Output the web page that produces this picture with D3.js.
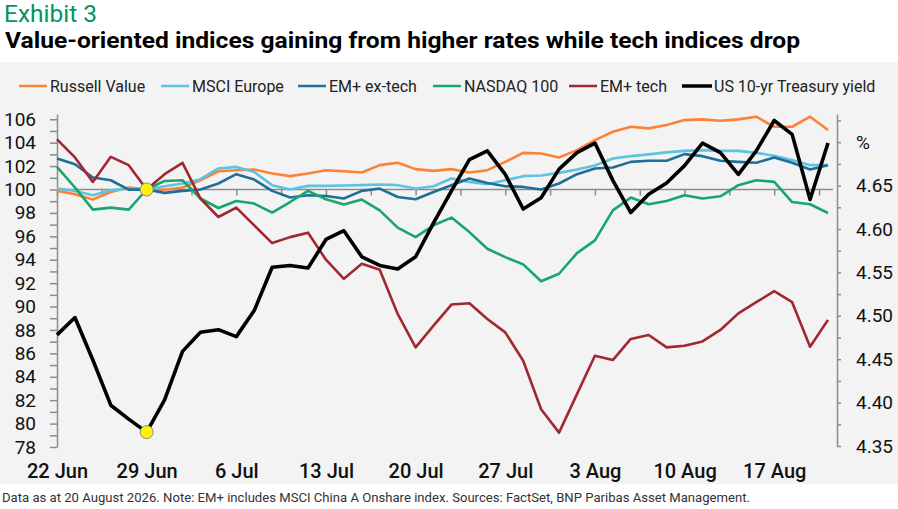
<!DOCTYPE html>
<html lang="en">
  <head>
    <meta charset="UTF-8" />
    <title>Exhibit 3</title>
    <script src="https://d3js.org/d3.v7.min.js"></script>
    <style>
      body {
        margin: 0;
        background: #fff;
        font-family: Roboto, "Noto Sans", sans-serif;
      }
      .axis path,
      .axis line {
        stroke: #8c8c8c;
        stroke-width: 1.5;
      }
      .axis text {
        font-family: Roboto, "Noto Sans", sans-serif;
        font-size: 19px;
        fill: #111;
      }
      .x-labels text {
        font-size: 20px;
        font-weight: 500;
      }
    </style>
  </head>
  <body>
    <div id="chart"></div>
    <script>
      // business days, 22 Jun - 20 Aug
      const dates = [
        "22 Jun", "23 Jun", "24 Jun", "25 Jun", "26 Jun",
        "29 Jun", "30 Jun", "1 Jul", "2 Jul", "3 Jul",
        "6 Jul", "7 Jul", "8 Jul", "9 Jul", "10 Jul",
        "13 Jul", "14 Jul", "15 Jul", "16 Jul", "17 Jul",
        "20 Jul", "21 Jul", "22 Jul", "23 Jul", "24 Jul",
        "27 Jul", "28 Jul", "29 Jul", "30 Jul", "31 Jul",
        "3 Aug", "4 Aug", "5 Aug", "6 Aug", "7 Aug",
        "10 Aug", "11 Aug", "12 Aug", "13 Aug", "14 Aug",
        "17 Aug", "18 Aug", "19 Aug", "20 Aug"
      ];
      const tickLabels = ["22 Jun", "29 Jun", "6 Jul", "13 Jul", "20 Jul", "27 Jul", "3 Aug", "10 Aug", "17 Aug"];

      const russellValue = [
        99.88, 99.59, 99.14, 99.79, 100.17, 100, 99.98, 100.17, 100.79, 101.56,
        101.65, 101.71, 101.37, 101.14, 101.37, 101.65, 101.56, 101.45, 102.08, 102.28,
        101.74, 101.59, 101.74, 101.45, 101.65, 102.36, 103.13, 103.08, 102.74, 103.36,
        104.22, 104.93, 105.36, 105.22, 105.51, 105.93, 105.99, 105.87, 105.99, 106.22,
        105.36, 105.36, 106.22, 105.08
      ];
      const msciEurope = [
        100.08, 99.88, 99.51, 99.94, 100.08, 100, 100.28, 100.51, 100.88, 101.8,
        101.93, 101.5, 100.37, 100.0, 100.31, 100.31, 100.34, 100.37, 100.43, 100.37,
        100.08, 100.28, 100.94, 100.65, 100.45, 100.79, 101.14, 101.2, 101.42, 101.71,
        102.05, 102.65, 102.85, 103.0, 103.17, 103.3, 103.36, 103.3, 103.3, 103.13,
        102.88, 102.51, 102.08, 102.08
      ];
      const emExTech = [
        102.65, 102.16, 101.02, 100.79, 99.99, 100, 99.71, 99.88, 100.0, 100.51,
        101.31, 100.85, 99.88, 99.31, 99.51, 99.45, 99.23, 99.88, 100.08, 99.36,
        99.17, 99.79, 100.37, 100.94, 100.56, 100.28, 100.22, 100.0, 100.51, 101.31,
        101.8, 101.88, 102.36, 102.45, 102.45, 103.02, 102.85, 102.45, 102.36, 102.28,
        102.74, 102.28, 101.71, 102.08
      ];
      const nasdaq100 = [
        101.93, 100.17, 98.28, 98.45, 98.28, 100, 100.73, 100.79, 99.23, 98.42,
        99.02, 98.8, 98.03, 98.93, 99.88, 99.17, 98.71, 99.14, 98.22, 96.74,
        95.93, 96.94, 97.6, 96.36, 94.94, 94.22, 93.6, 92.16, 92.8, 94.56,
        95.65, 98.22, 99.31, 98.74, 99.02, 99.51, 99.23, 99.42, 100.37, 100.79,
        100.65, 98.93, 98.74, 97.99
      ];
      const emTech = [
        104.28, 102.74, 100.65, 102.79, 102.08, 100, 101.31, 102.28, 99.23, 97.65,
        98.45, 96.94, 95.42, 95.93, 96.31, 94.0, 92.37, 93.66, 93.14, 89.37,
        86.51, 88.37, 90.17, 90.28, 88.94, 87.79, 85.37, 81.23, 79.23, 82.52,
        85.8, 85.43, 87.23, 87.57, 86.51, 86.65, 87.02, 88.0, 89.42, 90.37,
        91.31, 90.37, 86.57, 88.86
      ];
      // right axis, %
      const us10y = [
        4.478, 4.498, 4.449, 4.397, 4.381, 4.366, 4.403, 4.459, 4.481, 4.484,
        4.476, 4.506, 4.556, 4.558, 4.555, 4.588, 4.598, 4.568, 4.558, 4.554,
        4.568, 4.607, 4.644, 4.68, 4.69, 4.663, 4.623, 4.636, 4.669, 4.688,
        4.699, 4.656, 4.619, 4.64, 4.653, 4.673, 4.699, 4.688, 4.663, 4.69,
        4.725, 4.709, 4.634, 4.699
      ];

      const seriesNames = ["Russell Value", "MSCI Europe", "EM+ ex-tech", "NASDAQ 100", "EM+ tech", "US 10-yr Treasury yield"];
      const seriesColors = ["#fb8237", "#5cc3e2", "#1f6f97", "#17a66b", "#a0282e", "#000000"];

      const width = 898;
      const height = 509;

      const svg = d3
        .select("#chart")
        .append("svg")
        .attr("width", width)
        .attr("height", height);

      svg.append("rect").attr("x", 0).attr("y", 62).attr("width", width).attr("height", 422).attr("fill", "#f3f3f3");

      // titles
      svg.append("text")
        .attr("x", 4).attr("y", 22)
        .attr("fill", "#00965e")
        .style("font-size", "23px")
        .attr("textLength", 93)
        .attr("lengthAdjust", "spacingAndGlyphs")
        .text("Exhibit 3");

      svg.append("text")
        .attr("x", 5).attr("y", 48)
        .attr("fill", "#000")
        .style("font-size", "22px")
        .style("font-weight", "bold")
        .attr("textLength", 795)
        .attr("lengthAdjust", "spacingAndGlyphs")
        .text("Value-oriented indices gaining from higher rates while tech indices drop");

      svg.append("text")
        .attr("x", 2).attr("y", 502)
        .attr("fill", "#333")
        .style("font-size", "13px")
        .attr("textLength", 748)
        .attr("lengthAdjust", "spacingAndGlyphs")
        .text("Data as at 20 August 2026. Note: EM+ includes MSCI China A Onshare index. Sources: FactSet, BNP Paribas Asset Management.");

      // legend
      const legendX = [19, 161, 298, 433, 569, 682];
      const legend = svg.append("g").attr("class", "legend");
      seriesNames.forEach((name, i) => {
        const lg = legend.append("g").attr("transform", `translate(${legendX[i]},86)`);
        lg.append("line")
          .attr("x1", 0).attr("x2", i === 5 ? 30 : 28)
          .attr("stroke", seriesColors[i])
          .attr("stroke-width", i === 5 ? 3.5 : 2.5);
        lg.append("text")
          .attr("x", i === 5 ? 32 : 31).attr("y", 5.5)
          .style("font-size", "16px")
          .attr("fill", "#222")
          .text(name);
      });

      // scales
      const x = d3.scaleLinear().domain([0, dates.length - 1]).range([57, 828]);
      const yL = d3.scaleLinear().domain([78, 106.45]).range([447, 114]);
      const yR = d3.scaleLinear().domain([4.35, 4.7325]).range([446, 114]);

      // left axis
      svg.append("g")
        .attr("class", "axis")
        .attr("transform", "translate(57,0)")
        .call(
          d3.axisLeft(yL)
            .tickValues(d3.range(78, 107))
            .tickSize(7)
            .tickSizeOuter(0)
            .tickPadding(14)
            .tickFormat((d) => (d % 2 === 0 ? d : ""))
        );

      // right axis
      svg.append("g")
        .attr("class", "axis")
        .attr("transform", "translate(837,0)")
        .call(
          d3.axisRight(yR)
            .tickValues(d3.range(16).map((i) => 4.35 + i * 0.025))
            .tickSize(4)
            .tickSizeOuter(0)
            .tickPadding(15)
            .tickFormat((d) => {
              const k = Math.round(d * 1000);
              if (k === 4700) return "%";
              return k % 50 === 0 ? d3.format(".2f")(d) : "";
            })
        );

      // x axis crossing at 100
      const xAxisG = svg.append("g")
        .attr("class", "axis")
        .attr("transform", `translate(0,${yL(100)})`)
        .call(
          d3.axisBottom(x)
            .tickValues(d3.range(0, 43, 2.5))
            .tickSize(6)
            .tickSizeOuter(0)
            .tickFormat("")
        );
      xAxisG.select(".domain").attr("d", `M${x(0)},0H${x(dates.length - 1) + 5}`);

      // date labels along the bottom
      const tickIdx = tickLabels.map((t) => dates.indexOf(t));
      svg.append("g")
        .attr("class", "axis x-labels")
        .attr("transform", "translate(0,464)")
        .call(
          d3.axisBottom(x)
            .tickValues(tickIdx)
            .tickSize(0)
            .tickPadding(0)
            .tickFormat((i) => dates[i])
        )
        .call((g) => g.select(".domain").remove());

      // lines
      const leftSeries = [russellValue, msciEurope, emExTech, nasdaq100, emTech];
      const lineL = d3.line().x((d, i) => x(i)).y((d) => yL(d));
      const lineR = d3.line().x((d, i) => x(i)).y((d) => yR(d));

      leftSeries.forEach((s, i) => {
        svg.append("path")
          .datum(s)
          .attr("fill", "none")
          .attr("stroke", seriesColors[i])
          .attr("stroke-width", 2.6)
          .attr("stroke-linejoin", "round")
          .attr("d", lineL);
      });

      svg.append("path")
        .datum(us10y)
        .attr("fill", "none")
        .attr("stroke", seriesColors[5])
        .attr("stroke-width", 3.6)
        .attr("stroke-linejoin", "round")
        .attr("d", lineR);

      // rebasing markers on 29 Jun
      const base = dates.indexOf("29 Jun");
      [[x(base), yL(100)], [x(base), yR(us10y[base])]].forEach(([cx, cy]) => {
        svg.append("circle")
          .attr("cx", cx).attr("cy", cy).attr("r", 6.5)
          .attr("fill", "#fff200")
          .attr("stroke", "#8a8a8a")
          .attr("stroke-width", 1);
      });
    </script>
  </body>
</html>
